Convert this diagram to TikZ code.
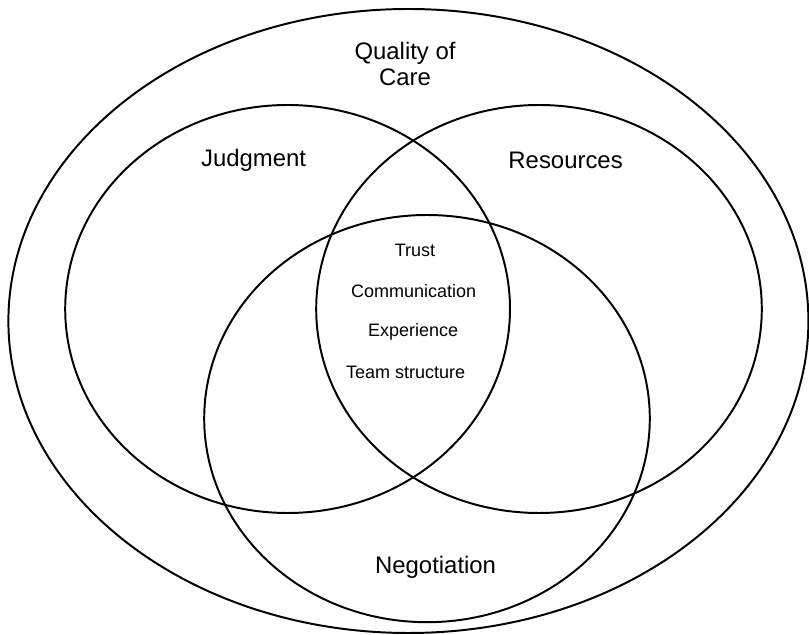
\documentclass[tikz,border=0pt]{standalone}
\usepackage{fontspec}
\setmainfont{Liberation Sans}
\usepackage{tikz}

\begin{document}
\begin{tikzpicture}[
        ring/.style = {draw, line width=1.4pt},
        bigtxt/.style = {font=\fontsize{17}{18}\selectfont, align=center},
        smalltxt/.style = {font=\fontsize{12.8}{15}\selectfont}
    ]
        \useasboundingbox (0,0) rectangle (20.225,15.875);
        \draw[ring] (10.21,7.85) ellipse [x radius=10.0, y radius=7.8];
        \draw[ring] (7.19,8.15) ellipse [x radius=5.56, y radius=5.1];
        \draw[ring] (13.475,8.15) ellipse [x radius=5.57, y radius=5.1];
        \draw[ring] (10.675,5.41) ellipse [x radius=5.57, y radius=5.09];
        \node[bigtxt] (quality) at (10.125, 14.275) {Quality of\\Care};
        \node[bigtxt] (judgment) at (6.34, 11.875) {Judgment};
        \node[bigtxt] (resources) at (14.14, 11.875) {Resources};
        \node[bigtxt] (negotiation) at (10.89, 1.68) {Negotiation};
        \node[smalltxt] (trust) at (10.375, 9.625) {Trust};
        \node[smalltxt] (communication) at (10.34, 8.6) {Communication};
        \node[smalltxt] (experience) at (10.33, 7.58) {Experience};
        \node[smalltxt] (team) at (10.14, 6.56) {Team structure};
    \end{tikzpicture}
\end{document}
